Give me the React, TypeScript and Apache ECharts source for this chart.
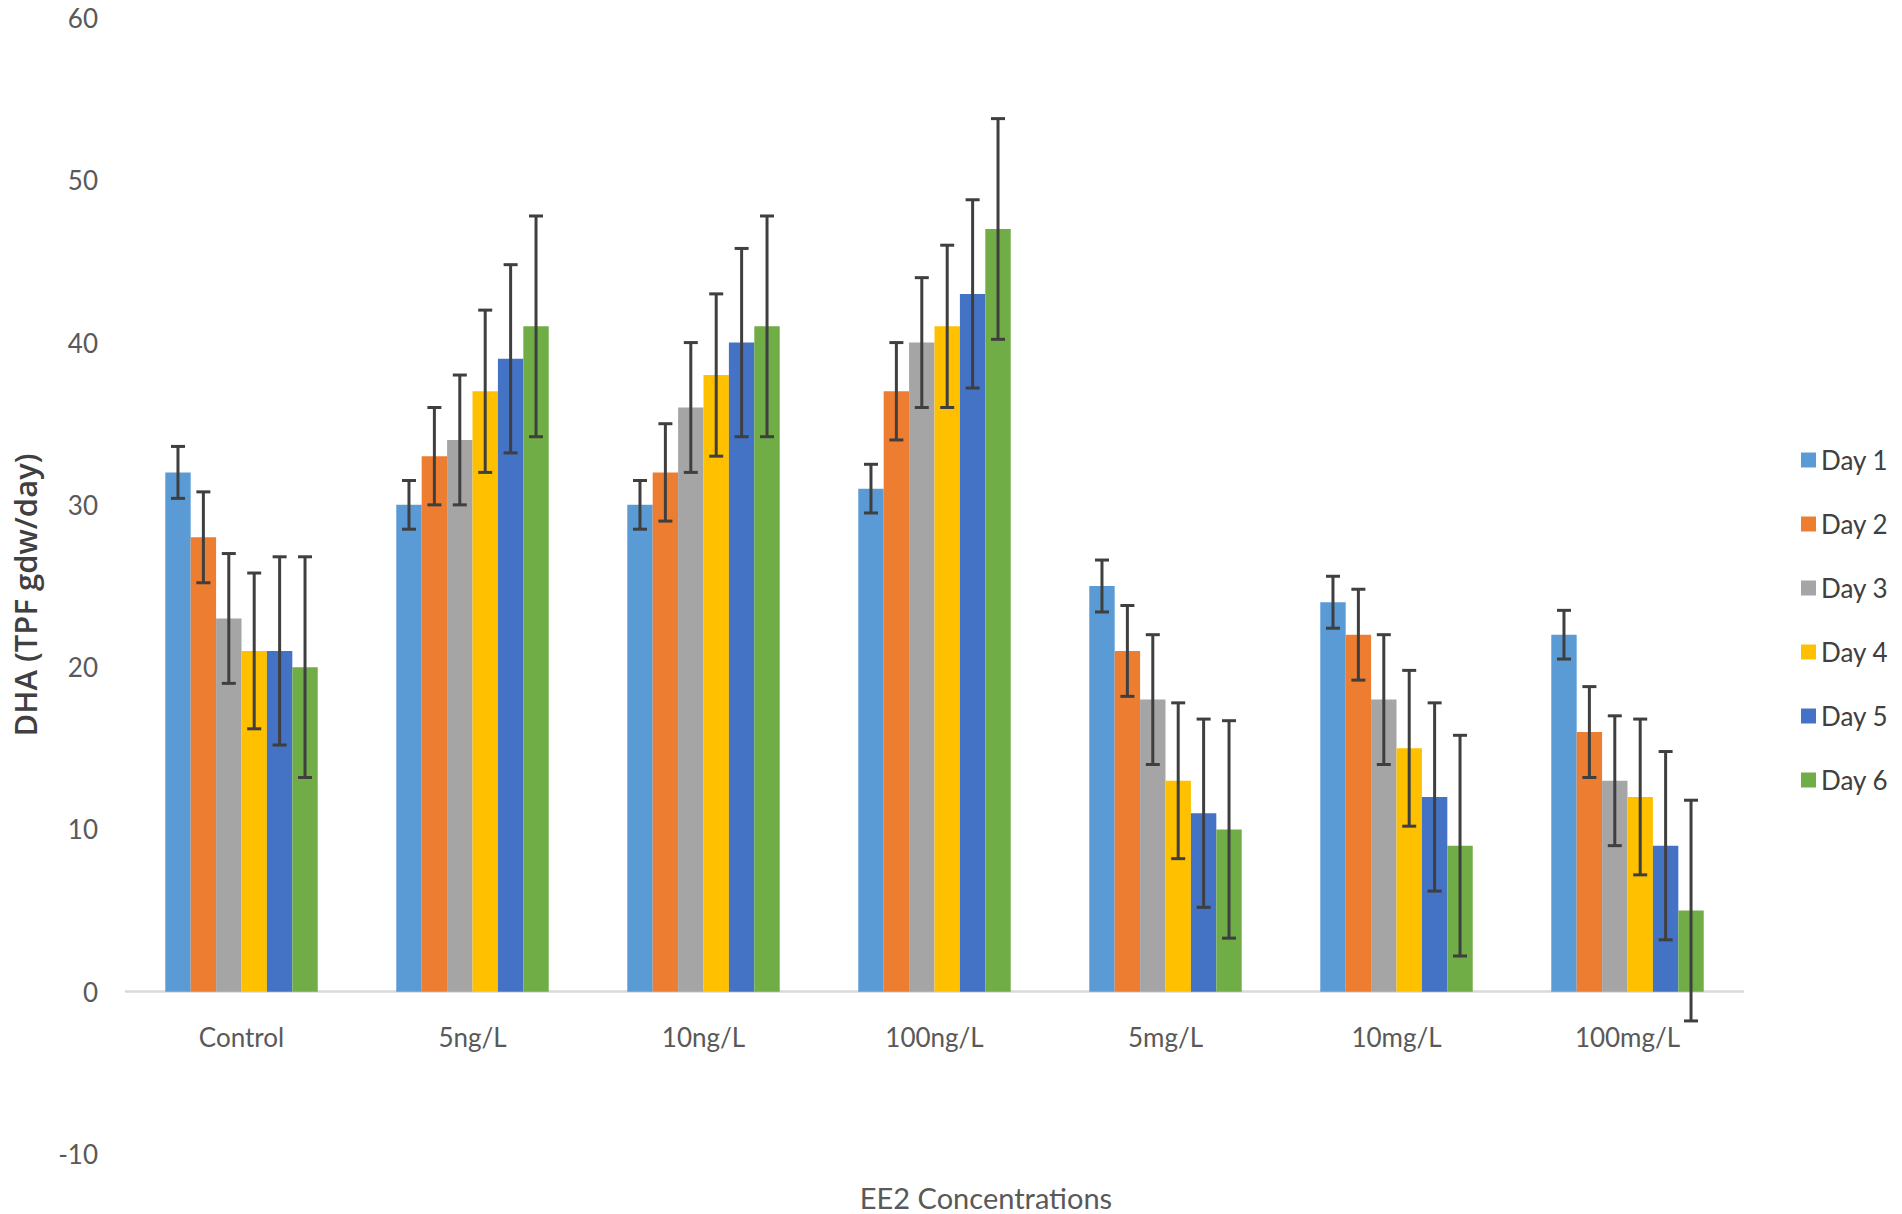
import React, { useEffect, useRef } from "react";
import * as echarts from "echarts";

const categories = ["Control", "5ng/L", "10ng/L", "100ng/L", "5mg/L", "10mg/L", "100mg/L"];
const dayNames = ["Day 1", "Day 2", "Day 3", "Day 4", "Day 5", "Day 6"];
const colors = ["#5B9BD5", "#ED7D31", "#A5A5A5", "#FFC000", "#4472C4", "#70AD47"];

const day1 = [32, 30, 30, 31, 25, 24, 22];
const day2 = [28, 33, 32, 37, 21, 22, 16];
const day3 = [23, 34, 36, 40, 18, 18, 13];
const day4 = [21, 37, 38, 41, 13, 15, 12];
const day5 = [21, 39, 40, 43, 11, 12, 9];
const day6 = [20, 41, 41, 47, 10, 9, 5];

const err1 = [1.6, 1.5, 1.5, 1.5, 1.6, 1.6, 1.5];
const err2 = [2.8, 3, 3, 3, 2.8, 2.8, 2.8];
const err3 = [4, 4, 4, 4, 4, 4, 4];
const err4 = [4.8, 5, 5, 5, 4.8, 4.8, 4.8];
const err5 = [5.8, 5.8, 5.8, 5.8, 5.8, 5.8, 5.8];
const err6 = [6.8, 6.8, 6.8, 6.8, 6.7, 6.8, 6.8];

const values = [day1, day2, day3, day4, day5, day6];
const errors = [err1, err2, err3, err4, err5, err6];

const yTicks = { min: -10, max: 60, interval: 10 };
const CAT_GAP = 0.34;
const FONT = "Lato, 'Noto Sans', sans-serif";
const GRID = { left: 126, right: 159, top: 18, bottom: 60 };
const H = 1214;

export default function App() {
  const ref = useRef<HTMLDivElement>(null);

  useEffect(() => {
    document.body.style.margin = "0";
    if (!ref.current) return;
    const chart = echarts.init(ref.current, null, { renderer: "svg" });
    const n = dayNames.length;
    const gridH = H - GRID.top - GRID.bottom;
    const zeroOffset = -gridH * (0 - yTicks.min) / (yTicks.max - yTicks.min);

    const barSeries = dayNames.map((name, i) => ({
      name,
      type: "bar",
      data: values[i],
      itemStyle: { color: colors[i] },
      barGap: "0%",
      barCategoryGap: CAT_GAP * 100 + "%",
      z: 2,
    }));

    const errSeries = dayNames.map((name, i) => ({
      name: "err " + name,
      type: "custom",
      z: 4,
      data: values[i].map((v, k) => [k, v, errors[i][k]]),
      encode: { x: 0, y: 1 },
      renderItem: (params: any, api: any) => {
        const x = api.value(0);
        const y = api.value(1);
        const e = api.value(2);
        const base = api.coord([x, y]);
        const top = api.coord([x, y + e]);
        const bot = api.coord([x, y - e]);
        const band = api.size([1, 0])[0];
        const bw = (band * (1 - CAT_GAP)) / n;
        const cx = base[0] + (i - (n - 1) / 2) * bw;
        const cap = 7;
        const style = { stroke: "#3F3F3F", lineWidth: 3 };
        return {
          type: "group",
          children: [
            { type: "line", shape: { x1: cx, y1: top[1], x2: cx, y2: bot[1] }, style },
            { type: "line", shape: { x1: cx - cap, y1: top[1], x2: cx + cap, y2: top[1] }, style },
            { type: "line", shape: { x1: cx - cap, y1: bot[1], x2: cx + cap, y2: bot[1] }, style },
          ],
        };
      },
    }));

    chart.setOption({
      animation: false,
      backgroundColor: "#FFFFFF",
      grid: { ...GRID, containLabel: false },
      legend: {
        data: dayNames,
        orient: "vertical",
        left: 1796,
        top: 442,
        icon: "rect",
        itemWidth: 15,
        itemHeight: 15,
        itemGap: 38,
        textStyle: { fontFamily: FONT, fontSize: 26, color: "#404040" },
      },
      xAxis: {
        type: "category",
        data: categories,
        offset: zeroOffset,
        axisLine: { show: true, onZero: false, lineStyle: { color: "#D9D9D9", width: 2.5 } },
        axisTick: { show: false },
        axisLabel: { fontFamily: FONT, fontSize: 26, color: "#595959", margin: 32 },
        splitLine: { show: false },
      },
      yAxis: {
        type: "value",
        min: yTicks.min,
        max: yTicks.max,
        interval: yTicks.interval,
        axisLine: { show: false },
        axisTick: { show: false },
        splitLine: { show: false },
        axisLabel: { fontFamily: FONT, fontSize: 26, color: "#595959", margin: 28 },
      },
      graphic: [
        {
          type: "text",
          x: 25,
          y: 595,
          rotation: Math.PI / 2,
          style: {
            text: "DHA (TPF gdw/day)",
            fontFamily: "'Open Sans', sans-serif",
            fontWeight: 600,
            fontSize: 31,
            fill: "#404040",
            align: "center",
            verticalAlign: "middle",
          },
        },
        {
          type: "text",
          x: 986,
          y: 1197,
          style: {
            text: "EE2 Concentrations",
            fontFamily: FONT,
            fontSize: 29,
            fill: "#595959",
            align: "center",
            verticalAlign: "middle",
          },
        },
      ],
      series: [...barSeries, ...errSeries],
    });

    return () => chart.dispose();
  }, []);

  return <div ref={ref} style={{ width: 1902, height: 1214 }} />;
}
